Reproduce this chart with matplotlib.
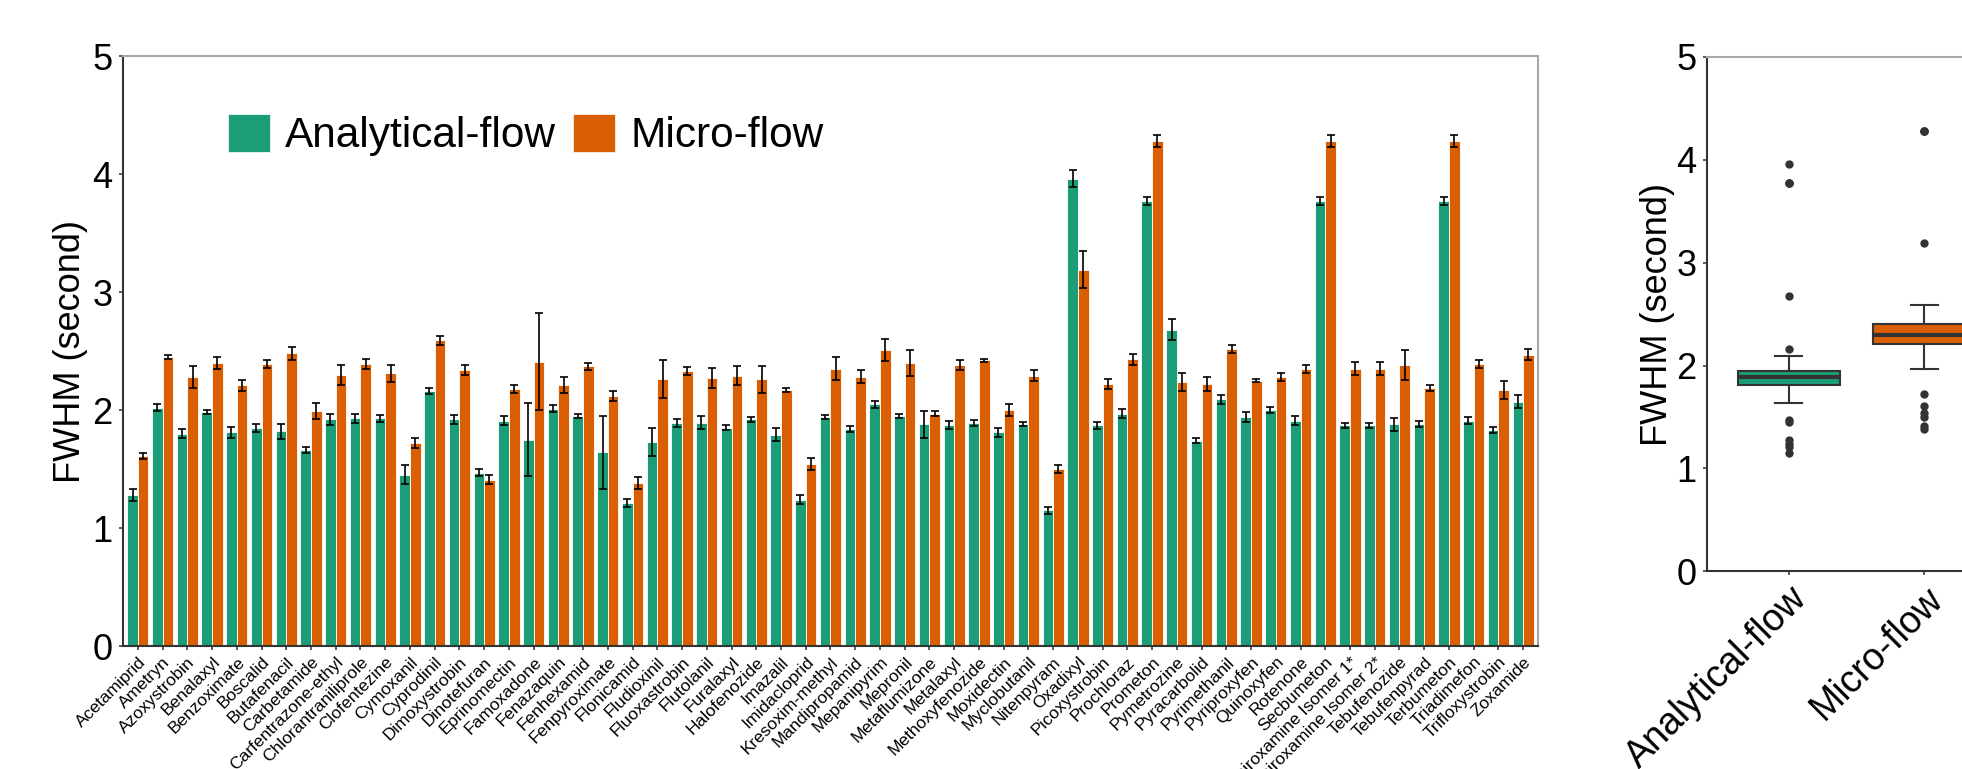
import matplotlib
matplotlib.use("Agg")
import matplotlib.pyplot as plt
from matplotlib.patches import Patch
import numpy as np

plt.rcParams['font.family'] = ['Liberation Sans', 'DejaVu Sans']

# 農薬ごとのピーク半値幅 (秒)
compounds = [
    "Acetamiprid", "Ametryn", "Azoxystrobin", "Benalaxyl", "Benzoximate",
    "Boscalid", "Butafenacil", "Carbetamide", "Carfentrazone-ethyl",
    "Chlorantraniliprole", "Clofentezine", "Cymoxanil", "Cyprodinil",
    "Dimoxystrobin", "Dinotefuran", "Eprinomectin", "Famoxadone", "Fenazaquin",
    "Fenhexamid", "Fenpyroximate", "Flonicamid", "Fludioxinil", "Fluoxastrobin",
    "Flutolanil", "Furalaxyl", "Halofenozide", "Imazalil", "Imidacloprid",
    "Kresoxim-methyl", "Mandipropamid", "Mepanipyrim", "Mepronil",
    "Metaflumizone", "Metalaxyl", "Methoxyfenozide", "Moxidectin",
    "Myclobutanil", "Nitenpyram", "Oxadixyl", "Picoxystrobin", "Prochloraz",
    "Prometon", "Pymetrozine", "Pyracarbolid", "Pyrimethanil", "Pyriproxyfen",
    "Quinoxyfen", "Rotenone", "Secbumeton", "Spiroxamine Isomer 1*",
    "Spiroxamine Isomer 2*", "Tebufenozide", "Tebufenpyrad", "Terbumeton",
    "Triadimefon", "Trifloxystrobin", "Zoxamide",
]

analytical = [
    1.28, 2.02, 1.80, 1.98, 1.81, 1.85, 1.82, 1.66, 1.92, 1.93,
    1.93, 1.45, 2.16, 1.92, 1.47, 1.91, 1.75, 2.01, 1.95, 1.64,
    1.21, 1.73, 1.89, 1.89, 1.85, 1.92, 1.79, 1.24, 1.94, 1.84,
    2.05, 1.95, 1.88, 1.87, 1.89, 1.81, 1.88, 1.15, 3.96, 1.87,
    1.97, 3.77, 2.68, 1.74, 2.09, 1.94, 2.00, 1.91, 3.77, 1.87,
    1.87, 1.88, 1.88, 3.77, 1.91, 1.83, 2.07,
]
analytical_err = [
    0.05, 0.03, 0.035, 0.017, 0.05, 0.035, 0.065, 0.025, 0.045, 0.04,
    0.03, 0.08, 0.025, 0.035, 0.03, 0.035, 0.31, 0.03, 0.02, 0.31,
    0.035, 0.12, 0.03, 0.055, 0.02, 0.02, 0.055, 0.04, 0.02, 0.025,
    0.03, 0.02, 0.115, 0.035, 0.025, 0.04, 0.017, 0.03, 0.07, 0.03,
    0.035, 0.035, 0.09, 0.02, 0.035, 0.045, 0.025, 0.04, 0.035, 0.02,
    0.02, 0.055, 0.023, 0.035, 0.027, 0.023, 0.057,
]

micro = [
    1.61, 2.45, 2.28, 2.40, 2.21, 2.39, 2.48, 1.99, 2.30, 2.39,
    2.31, 1.72, 2.59, 2.34, 1.41, 2.18, 2.41, 2.21, 2.37, 2.12,
    1.38, 2.26, 2.33, 2.27, 2.29, 2.26, 2.17, 1.54, 2.35, 2.28,
    2.51, 2.40, 1.97, 2.38, 2.42, 2.00, 2.29, 1.50, 3.19, 2.22,
    2.43, 4.28, 2.24, 2.22, 2.52, 2.25, 2.28, 2.35, 4.28, 2.35,
    2.35, 2.38, 2.19, 4.28, 2.39, 2.17, 2.47,
]
micro_err = [
    0.025, 0.02, 0.09, 0.05, 0.045, 0.035, 0.055, 0.07, 0.085, 0.04,
    0.075, 0.045, 0.035, 0.045, 0.04, 0.035, 0.41, 0.07, 0.03, 0.04,
    0.05, 0.16, 0.035, 0.085, 0.08, 0.115, 0.02, 0.05, 0.095, 0.055,
    0.095, 0.11, 0.02, 0.045, 0.01, 0.055, 0.045, 0.03, 0.16, 0.04,
    0.045, 0.05, 0.075, 0.06, 0.035, 0.01, 0.03, 0.035, 0.05, 0.055,
    0.055, 0.125, 0.025, 0.05, 0.033, 0.075, 0.044,
]

methods = ["Analytical-flow", "Micro-flow"]
colors = ["#1B9E77", "#D95F02"]
yticks = [0, 1, 2, 3, 4, 5]

W, H = 1962, 769
fig = plt.figure(figsize=(W / 100, H / 100), dpi=100)

def style_axes(ax):
    for side in ("left", "bottom"):
        ax.spines[side].set_color("#333333")
        ax.spines[side].set_linewidth(1.5)
    for side in ("top", "right"):
        ax.spines[side].set_color("#A8A8A8")
        ax.spines[side].set_linewidth(1.5)
    ax.tick_params(axis="both", length=3, width=1.1, color="#333333")
    ax.tick_params(axis="y", labelsize=26, pad=4.5)

# ---- 棒グラフ (左)
ax = fig.add_axes([123 / W, 1 - 646 / H, (1538 - 123) / W, (646 - 56) / H])
x = np.arange(len(compounds))
bw = 0.43
ax.bar(x - bw / 2, analytical, bw, color=colors[0], edgecolor="white", linewidth=0.6)
ax.bar(x + bw / 2, micro, bw, color=colors[1], edgecolor="white", linewidth=0.6)
ebar = dict(fmt="none", ecolor="black", elinewidth=1.2, capsize=3.2, capthick=1.2)
ax.errorbar(x - bw / 2, analytical, yerr=analytical_err, **ebar)
ax.errorbar(x + bw / 2, micro, yerr=micro_err, **ebar)

ax.set_xlim(-0.6, len(compounds) - 0.4)
ax.set_ylim(0, 5)
ax.set_yticks(yticks)
ax.set_xticks(x)
ax.set_xticklabels(compounds, rotation=45, ha="right", va="top",
                   rotation_mode="anchor", fontsize=12.5)
ax.tick_params(axis="x", pad=3)
ax.set_ylabel("FWHM (second)", fontsize=26, labelpad=3)
style_axes(ax)

handles = [Patch(facecolor=c, edgecolor="white", linewidth=0.5) for c in colors]
ax.legend(handles, methods, ncol=2, fontsize=30.5, frameon=False,
          loc="center left", bbox_to_anchor=(0.074, 0.866),
          borderpad=0, borderaxespad=0, handlelength=1.0, handleheight=1.0,
          handletextpad=0.35, columnspacing=0.4)

# ---- 箱ひげ図 (右)
ax2 = fig.add_axes([1707 / W, 1 - 571.4 / H, (2006 - 1707) / W, (571.4 - 56.8) / H])
bp = ax2.boxplot([analytical, micro], positions=[0, 1], widths=0.75,
                 patch_artist=True, capwidths=0.2,
                 boxprops=dict(edgecolor="#333333", linewidth=1.5),
                 medianprops=dict(color="#333333", linewidth=3),
                 whiskerprops=dict(color="#333333", linewidth=1.5),
                 capprops=dict(color="#333333", linewidth=1.5),
                 flierprops=dict(marker="o", markerfacecolor="#333333",
                                 markeredgecolor="#333333", markersize=5))
for patch, c in zip(bp["boxes"], colors):
    patch.set_facecolor(c)

ax2.set_xlim(-0.6, 1.6)
ax2.set_ylim(0, 5)
ax2.set_yticks(yticks)
ax2.set_xticks([0, 1])
ax2.set_xticklabels(methods, rotation=45, ha="right", va="top",
                    rotation_mode="anchor", fontsize=27)
ax2.set_ylabel("FWHM (second)", fontsize=26, labelpad=1)
style_axes(ax2)

fig.savefig("out.png", dpi=100)
